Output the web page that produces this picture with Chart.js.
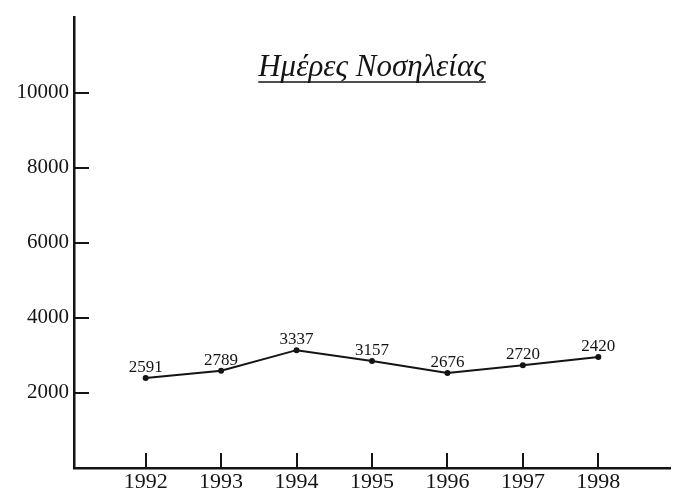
<!DOCTYPE html>
<html lang="el">
<head>
  <meta charset="UTF-8">
  <title>Ημέρες Νοσηλείας</title>
  <script src="https://cdn.jsdelivr.net/npm/chart.js"></script>
  <style>
    html, body { margin: 0; padding: 0; background: #fff; }
    .chart-box { width: 678px; height: 492px; }
  </style>
</head>
<body>
  <div class="chart-box"><canvas id="chart"></canvas></div>

  <script>
    // data
    const chartTitle = 'Ημέρες Νοσηλείας';
    const years = [1992, 1993, 1994, 1995, 1996, 1997, 1998];
    // height of each point as it is drawn on the original
    const plottedDays = [2400, 2590, 3140, 2850, 2530, 2740, 2960];
    // numbers printed next to the points
    const printedDays = [2591, 2789, 3337, 3157, 2676, 2720, 2420];
    const yTicks = [2000, 4000, 6000, 8000, 10000];

    const ink = '#141414';
    const serif = "'Liberation Serif', 'Times New Roman', serif";

    // inward tick marks, point labels and the underlined title
    const decorations = {
      id: 'decorations',
      afterDatasetsDraw(chart) {
        const ctx = chart.ctx;
        const area = chart.chartArea;
        const x = chart.scales.x;
        const y = chart.scales.y;

        ctx.save();
        ctx.strokeStyle = ink;
        ctx.lineWidth = 2;
        for (const v of yTicks) {
          const py = Math.round(y.getPixelForValue(v));
          ctx.beginPath();
          ctx.moveTo(area.left, py);
          ctx.lineTo(area.left + 15, py);
          ctx.stroke();
        }
        for (const v of years) {
          const px = Math.round(x.getPixelForValue(v));
          ctx.beginPath();
          ctx.moveTo(px, area.bottom);
          ctx.lineTo(px, area.bottom - 15);
          ctx.stroke();
        }

        // printed values above each point
        const meta = chart.getDatasetMeta(0);
        ctx.fillStyle = ink;
        ctx.font = '17px ' + serif;
        ctx.textAlign = 'center';
        ctx.textBaseline = 'alphabetic';
        meta.data.forEach((pt, i) => {
          ctx.fillText(String(printedDays[i]), pt.x, pt.y - 6);
        });

        // title inside the plot
        ctx.font = 'italic 31px ' + serif;
        const cx = (area.left + area.right) / 2;
        const ty = 76;
        ctx.fillText(chartTitle, cx, ty);
        const w = ctx.measureText(chartTitle).width;
        ctx.lineWidth = 1.6;
        ctx.beginPath();
        ctx.moveTo(cx - w / 2, ty + 6);
        ctx.lineTo(cx + w / 2, ty + 6);
        ctx.stroke();
        ctx.restore();
      }
    };

    new Chart(document.getElementById('chart'), {
      type: 'line',
      data: {
        datasets: [{
          data: years.map((yr, i) => ({ x: yr, y: plottedDays[i] })),
          borderColor: ink,
          backgroundColor: ink,
          borderWidth: 2,
          pointRadius: 2,
          pointHoverRadius: 2,
          tension: 0
        }]
      },
      options: {
        responsive: true,
        maintainAspectRatio: false,
        animation: false,
        devicePixelRatio: 1,
        layout: { padding: { top: 11, right: 8, left: 0, bottom: 0 } },
        plugins: {
          legend: { display: false },
          tooltip: { enabled: false }
        },
        scales: {
          x: {
            type: 'linear',
            min: 1991.05,
            max: 1998.95,
            afterBuildTicks: scale => { scale.ticks = years.map(v => ({ value: v })); },
            afterFit: scale => { scale.height = 24; },
            grid: { display: false, drawTicks: false },
            border: { display: true, color: ink, width: 2.5 },
            ticks: {
              color: ink,
              padding: 1,
              font: { family: serif, size: 22 },
              callback: v => String(v)
            }
          },
          y: {
            min: 0,
            max: 12000,
            afterBuildTicks: scale => { scale.ticks = yTicks.map(v => ({ value: v })); },
            afterFit: scale => { scale.width = 74; },
            grid: { display: false, drawTicks: false },
            border: { display: true, color: ink, width: 2.5 },
            ticks: {
              color: ink,
              padding: 5,
              font: { family: serif, size: 21 },
              callback: v => String(v)
            }
          }
        }
      },
      plugins: [decorations]
    });
  </script>
</body>
</html>
